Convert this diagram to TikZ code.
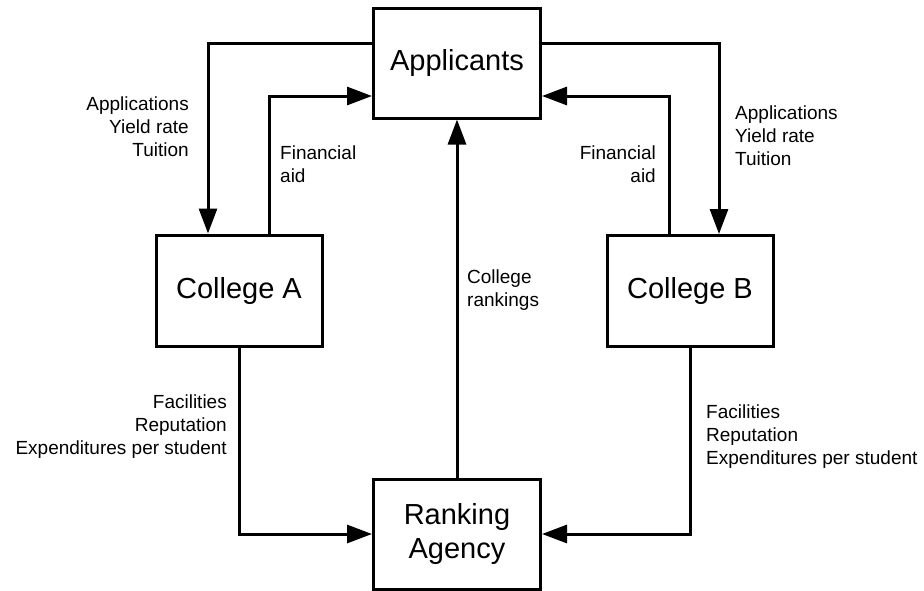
\documentclass[tikz,border=0pt]{standalone}
\usepackage{fontspec}
\setmainfont{Liberation Sans}
\usetikzlibrary{arrows.meta}
\begin{document}
\begin{tikzpicture}[x=1pt,y=-1pt,
  box/.style={draw, line width=3pt, minimum width=167pt, minimum height=110pt, inner sep=0pt, font=\fontsize{29}{34}\selectfont, align=center},
  lbl/.style={inner sep=0pt, font=\fontsize{19}{23}\selectfont},
  arr/.style={line width=3pt, -{Triangle[length=25pt,width=18pt]}}]
\useasboundingbox (0,0) rectangle (924,590);
\node[box] (Applicants) at (457,63) {Applicants};
\node[box, minimum width=166pt, minimum height=111pt] (CollegeA) at (239,290.5) {College A};
\node[box, minimum width=166pt, minimum height=111pt] (CollegeB) at (690,291) {College B};
\node[box] (Ranking) at (457,534) {Ranking\\Agency};
% labels
\node[lbl, align=right, anchor=east] (appL) at (189,127) {Applications\\Yield rate\\Tuition};
\node[lbl, align=left, anchor=west] (appR) at (735,136) {Applications\\Yield rate\\Tuition};
\node[lbl, align=left, anchor=west] (finL) at (280,164) {Financial\\aid};
\node[lbl, align=right, anchor=east] (finR) at (656,164) {Financial\\aid};
\node[lbl, align=left, anchor=west] (rank) at (467,290) {College\\rankings};
\node[lbl, align=right, anchor=east] (facL) at (227,427) {Facilities\\Reputation\\Expenditures per student};
\node[lbl, align=left, anchor=west] (facR) at (706,437) {Facilities\\Reputation\\Expenditures per student};
% connectors
\draw[arr] (Applicants.west |- 0,43) -| (208,0 |- CollegeA.north);
\draw[arr] (269,0 |- CollegeA.north) |- (Applicants.west |- 0,96);
\draw[arr] (Applicants.east |- 0,43) -| (719,0 |- CollegeB.north);
\draw[arr] (669,0 |- CollegeB.north) |- (Applicants.east |- 0,96);
\draw[arr] (Ranking.north) -- (Applicants.south);
\draw[arr] (CollegeA.south) |- (Ranking.west);
\draw[arr] (CollegeB.south) |- (Ranking.east);
\end{tikzpicture}
\end{document}
